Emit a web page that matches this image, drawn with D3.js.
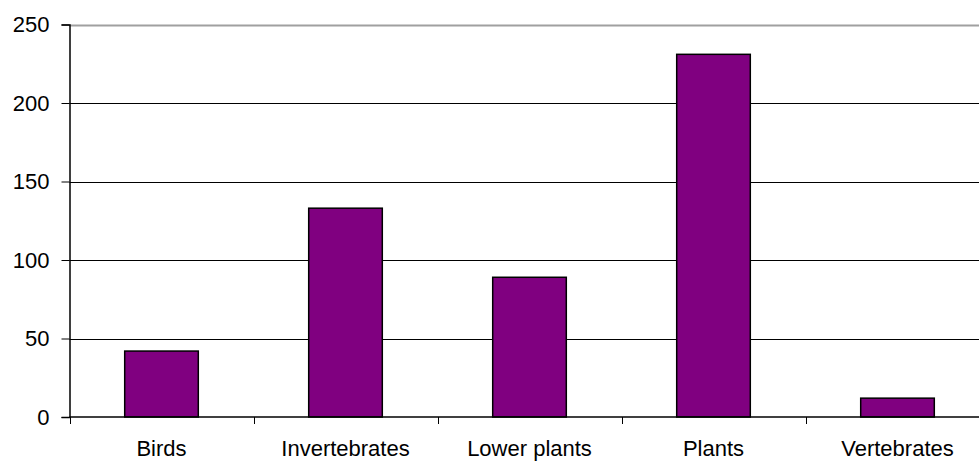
<!DOCTYPE html>
<html>
<head>
<meta charset="utf-8">
<script src="https://cdn.jsdelivr.net/npm/d3@7/dist/d3.min.js"></script>
<style>
  html, body { margin: 0; padding: 0; background: #fff; }
  svg { display: block; }
  text { font-family: "Liberation Sans", Arial, sans-serif; fill: #000; }
</style>
</head>
<body>
<svg id="chart" width="979" height="462"></svg>
<script>
// Species counts by group
const categories = ["Birds", "Invertebrates", "Lower plants", "Plants", "Vertebrates"];
const counts = [42, 133, 89, 231, 12];
const yTicks = [0, 50, 100, 150, 200, 250];

const svg = d3.select("#chart");
const plotLeft = 69.5, plotRight = 989.5, plotTop = 24.5, plotBottom = 417;

const x = d3.scaleBand().domain(categories).range([plotLeft, plotRight]).paddingInner(0.6).paddingOuter(0.3);
const y = d3.scaleLinear().domain([0, 250]).range([plotBottom, plotTop]);

// Horizontal gridlines
svg.append("g").selectAll("line").data(yTicks.filter(d => d > 0)).join("line")
  .attr("x1", plotLeft).attr("x2", plotRight)
  .attr("y1", d => Math.round(y(d)) + 0.5).attr("y2", d => Math.round(y(d)) + 0.5)
  .attr("stroke", d => d === 250 ? "#a0a0a0" : "#000")
  .attr("stroke-width", d => d === 250 ? 2 : 1);

// Bars
svg.append("g").selectAll("rect").data(categories).join("rect")
  .attr("x", d => x(d))
  .attr("y", (d, i) => y(counts[i]))
  .attr("width", x.bandwidth())
  .attr("height", (d, i) => plotBottom - y(counts[i]))
  .attr("fill", "#800080")
  .attr("stroke", "#000")
  .attr("stroke-width", 1.5);

// Y axis
const yAxis = svg.append("g").attr("transform", `translate(${plotLeft},0)`)
  .call(d3.axisLeft(y).tickValues(yTicks).tickSize(8).tickPadding(12));
yAxis.select(".domain").attr("stroke", "#000").attr("stroke-width", 1.5);
yAxis.selectAll(".tick line").attr("stroke", "#000");
yAxis.selectAll(".tick text").attr("font-size", 22).attr("font-family", "Liberation Sans, Arial, sans-serif");

// X axis baseline with category boundary ticks
const boundaries = d3.range(0, categories.length + 1).map(i => plotLeft + i * (plotRight - plotLeft) / categories.length);
const xg = svg.append("g");
xg.append("line").attr("x1", plotLeft).attr("x2", plotRight).attr("y1", plotBottom).attr("y2", plotBottom)
  .attr("stroke", "#000").attr("stroke-width", 1.5);
xg.selectAll("line.tick").data(boundaries).join("line").attr("class", "tick")
  .attr("x1", d => Math.round(d) + 0.5).attr("x2", d => Math.round(d) + 0.5)
  .attr("y1", plotBottom).attr("y2", plotBottom + 7)
  .attr("stroke", "#000");
xg.selectAll("text").data(categories).join("text")
  .attr("x", d => x(d) + x.bandwidth() / 2)
  .attr("y", 456)
  .attr("text-anchor", "middle")
  .attr("font-size", 22)
  .text(d => d);
</script>
</body>
</html>
